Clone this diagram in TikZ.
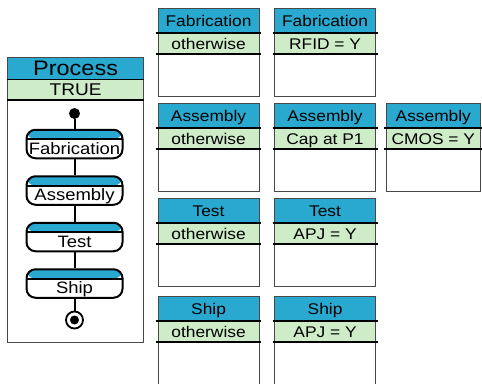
\documentclass[tikz,border=0pt]{standalone}
\usepackage{fontspec}
\setmainfont{Liberation Sans}[FakeStretch=1.12]
\usepackage{tikz}

\definecolor{bandblue}{RGB}{41,169,207}
\definecolor{bandgreen}{RGB}{206,236,199}
\definecolor{boxgray}{RGB}{72,72,72}

\tikzset{
    rulebox/.style={draw=boxgray, line width=1.1pt, fill=white, anchor=north west,
        inner sep=0pt, minimum height=88.5pt,
        path picture={
            \fill[bandblue] (path picture bounding box.north west)
                rectangle ([yshift=-25.5pt]path picture bounding box.north east);
            \fill[bandgreen] ([yshift=-25.5pt]path picture bounding box.north west)
                rectangle ([yshift=-46.5pt]path picture bounding box.north east);
        }},
    procbox/.style={draw=boxgray, line width=1.1pt, fill=white, anchor=north west,
        inner sep=0pt, minimum width=136pt, minimum height=285pt,
        path picture={
            \fill[bandblue] (path picture bounding box.north west)
                rectangle ([yshift=-22pt]path picture bounding box.north east);
            \fill[bandgreen] ([yshift=-22pt]path picture bounding box.north west)
                rectangle ([yshift=-43pt]path picture bounding box.north east);
        }},
    procstate/.style={draw, line width=2pt, rounded corners=9pt, fill=white,
        minimum width=96pt, minimum height=28.5pt, inner sep=0pt,
        text height=24.5pt, text depth=4pt, font=\fontsize{16.5}{19}\selectfont,
        path picture={
            \fill[bandblue] (path picture bounding box.north west)
                rectangle ([yshift=-9.5pt]path picture bounding box.north east);
            \draw[black, line width=1.6pt] ([yshift=-9.5pt]path picture bounding box.north west)
                -- ([yshift=-9.5pt]path picture bounding box.north east);
        }},
    sepline/.style={line width=2.2pt},
    thinsep/.style={line width=1pt},
    boxtext/.style={anchor=base, inner sep=0pt, font=\fontsize{15.5}{18}\selectfont},
    flowline/.style={line width=2pt},
    startdot/.style={circle, fill=black, inner sep=0pt, minimum size=11pt},
    stopdot/.style={circle, draw, line width=1.8pt, fill=white, inner sep=0pt, minimum size=17pt,
        path picture={\fill[black] (path picture bounding box.center) circle (4.5pt);}},
}

\begin{document}
\begin{tikzpicture}[x=1pt, y=-1pt]
    \useasboundingbox (0,0) rectangle (482,383);
    \clip (0,0) rectangle (482,383);

    % Process box
    \node[procbox] (proc) at (7,57) {};
    \draw[thinsep] ([yshift=-22pt]proc.north west) -- ([yshift=-22pt]proc.north east);
    \draw[sepline] ([yshift=-43pt]proc.north west) -- ([yshift=-43pt]proc.north east);
    \node[boxtext, font=\fontsize{21}{24}\selectfont] (proc-title) at ([yshift=-18pt]proc.north) {Process};
    \node[boxtext, font=\fontsize{17}{20}\selectfont] (proc-cond) at ([yshift=-38pt]proc.north) {TRUE};

    % Flow inside the process
    \node[startdot] (start) at (74.5,113.5) {};
    \node[procstate] (fab) at (74.5,144) {Fabrication};
    \node[procstate] (asm) at (74.5,190.5) {Assembly};
    \node[procstate] (tst) at (74.5,237) {Test};
    \node[procstate] (shp) at (74.5,283.5) {Ship};
    \node[stopdot] (stop) at (74.5,320) {};

    \draw[flowline] (start) -- (fab);
    \draw[flowline] (fab) -- (asm);
    \draw[flowline] (asm) -- (tst);
    \draw[flowline] (tst) -- (shp);
    \draw[flowline] (shp) -- (stop);

    % Rule boxes, one per step and condition
    \foreach \nm/\px/\py/\bw/\ttl/\cnd in {
        fabOther/157.5/7.5/101/Fabrication/otherwise,
        fabRfid/274/7.5/101/Fabrication/RFID = Y,
        asmOther/157.5/102.5/101/Assembly/otherwise,
        asmCap/274/102.5/101/Assembly/Cap at P1,
        asmCmos/385.5/102.5/94.5/Assembly/CMOS = Y,
        tstOther/157.5/197.5/101/Test/otherwise,
        tstApj/274/197.5/101/Test/APJ = Y,
        shpOther/157.5/295.5/101/Ship/otherwise,
        shpApj/274/295.5/101/Ship/APJ = Y} {
        \node[rulebox, minimum width=\bw pt] (\nm) at (\px,\py) {};
        \draw[sepline] ([xshift=-1.5pt, yshift=-25.5pt]\nm.north west)
            -- ([xshift=1.5pt, yshift=-25.5pt]\nm.north east);
        \draw[sepline] ([xshift=-1.5pt, yshift=-46.5pt]\nm.north west)
            -- ([xshift=1.5pt, yshift=-46.5pt]\nm.north east);
        \node[boxtext] (\nm-title) at ([yshift=-19pt]\nm.north) {\ttl};
        \node[boxtext] (\nm-cond) at ([yshift=-41.5pt]\nm.north) {\cnd};
    }
\end{tikzpicture}
\end{document}
